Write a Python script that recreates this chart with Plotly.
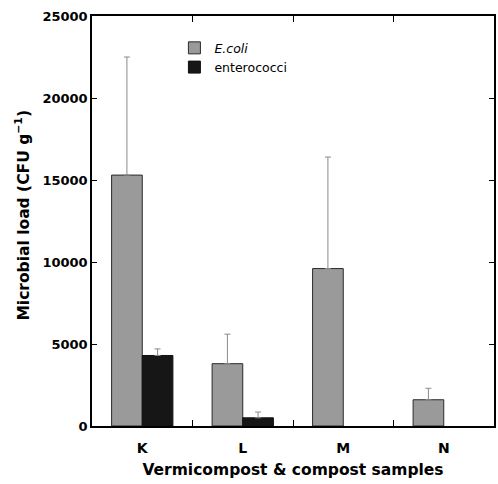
import plotly.graph_objects as go

samples = ["K", "L", "M", "N"]
ecoli = [15300, 3800, 9600, 1600]
ecoli_err = [7200, 1800, 6800, 700]
entero = [4300, 500, None, None]
entero_err = [400, 350, None, None]

y_ticks = [0, 5000, 10000, 15000, 20000, 25000]

fig = go.Figure()
fig.add_trace(go.Bar(
    x=samples, y=ecoli, name="<i>E.coli</i>",
    marker=dict(color="#9a9a9a", line=dict(color="#2a2a2a", width=1)),
    error_y=dict(type="data", array=ecoli_err, symmetric=False, arrayminus=[0] * 4,
                 color="#8a8a8a", thickness=1, width=3),
))
fig.add_trace(go.Bar(
    x=samples, y=entero, name="enterococci",
    marker=dict(color="#161616", line=dict(color="#111111", width=1)),
    error_y=dict(type="data", array=entero_err, symmetric=False, arrayminus=[0] * 4,
                 color="#8a8a8a", thickness=1, width=3),
))

fig.update_layout(
    width=498, height=484,
    margin=dict(l=92, r=2, t=16, b=58),
    paper_bgcolor="white", plot_bgcolor="white",
    barmode="group", bargap=0.39, bargroupgap=0,
    showlegend=True,
    legend=dict(x=0.205, y=0.958, xanchor="left", yanchor="top",
                bgcolor="rgba(0,0,0,0)",
                font=dict(family="DejaVu Sans", size=12.5, color="black"),
                itemwidth=30, tracegroupgap=0),
    xaxis=dict(
        type="category", tickson="boundaries", ticks="inside", ticklen=6, tickcolor="black",
        showline=True, linecolor="black", linewidth=1.5, mirror="ticks",
        tickfont=dict(family="DejaVu Sans", size=14, color="black", weight="bold"),
        ticklabelstandoff=8,
        title=dict(text="<b>Vermicompost & compost samples</b>",
                   font=dict(family="DejaVu Sans", size=15.5, color="black"), standoff=10),
        showgrid=False,
    ),
    yaxis=dict(
        range=[0, 25000], tickvals=y_ticks, ticktext=[str(v) for v in y_ticks],
        ticks="inside", ticklen=5, tickcolor="black",
        showline=True, linecolor="black", linewidth=1.5, mirror="ticks",
        tickfont=dict(family="DejaVu Sans", size=13, color="black", weight="bold"),
        showgrid=False, zeroline=False,
    ),
    annotations=[dict(
        text="<b>Microbial load (CFU g<sup>\u22121</sup>)</b>",
        textangle=-90, xref="paper", yref="paper",
        x=-70 / 404, y=0.514, xanchor="center", yanchor="middle",
        showarrow=False, font=dict(family="DejaVu Sans", size=15.5, color="black"),
    )],
)

fig.write_html("out.html")
